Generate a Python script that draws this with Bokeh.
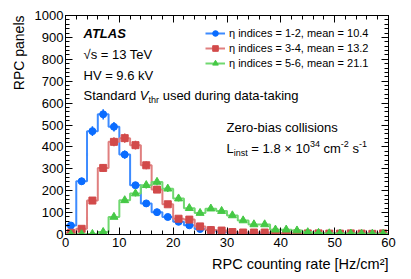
import numpy as np
from bokeh.plotting import figure
from bokeh.models import (Range1d, LinearAxis, SingleIntervalTicker, Label,
                          Legend, LegendItem, CustomJSTickFormatter, Title)
from bokeh.embed import file_html
from bokeh.resources import INLINE

# ---------------- data ----------------
bin_edges = [0, 2, 4, 6, 8, 10, 12, 14, 16, 18, 20, 22, 24, 26, 28, 30,
             32, 34, 36, 38, 40, 42, 44, 46, 48, 50, 52, 54, 56, 58, 60]
bin_centers = [1, 3, 5, 7, 9, 11, 13, 15, 17, 19, 21, 23, 25, 27, 29, 31,
               33, 35, 37, 39, 41, 43, 45, 47, 49, 51, 53, 55, 57, 59]
eta12 = [41, 243, 472, 549, 492, 365, 225, 142, 102, 80, 58, 42, 25, 20, 12,
         8, 6, 5, 5, 4, 4, 4, 4, 4, 3, 5, 3, 3, 4, 3]
eta34 = [8, 26, 155, 304, 423, 440, 408, 316, 205, 138, 72, 68, 37, 20, 18,
         11, 9, 9, 9, 8, 6, 5, 5, 5, 4, 4, 5, 4, 3, 5]
eta56 = [0, 1, 2, 11, 80, 156, 187, 225, 240, 209, 164, 120, 98, 118, 107,
         87, 64, 46, 46, 22, 22, 18, 10, 7, 5, 4, 4, 3, 3, 3]
series_labels = ["η indices = 1-2, mean = 10.4",
                 "η indices = 3-4, mean = 13.2",
                 "η indices = 5-6, mean = 21.1"]
x_title = "RPC counting rate [Hz/cm²]"
y_title = "RPC panels"

FONT = "Liberation Sans"

# ---------------- figure ----------------
p = figure(width=411, height=279, output_backend="svg", toolbar_location=None,
           x_range=Range1d(0, 60), y_range=Range1d(0, 1000),
           min_border_left=65, min_border_right=23, min_border_top=15,
           min_border_bottom=45, x_axis_type=None, y_axis_type=None)
p.grid.visible = False
p.outline_line_color = "black"
p.outline_line_width = 1
p.background_fill_color = "white"
p.border_fill_color = "white"


def style_axis(ax, labels=True):
    ax.major_tick_in = 7
    ax.major_tick_out = 0
    ax.minor_tick_in = 4
    ax.minor_tick_out = 0
    ax.axis_line_color = "black"
    ax.major_tick_line_color = "black"
    ax.minor_tick_line_color = "black"
    ax.major_label_text_font = FONT
    ax.major_label_text_color = "black"
    ax.major_label_text_font_size = "13px"
    if not labels:
        ax.formatter = CustomJSTickFormatter(code="return ''")
        ax.major_label_standoff = 0


xt = SingleIntervalTicker(interval=10, num_minor_ticks=5)
yt = SingleIntervalTicker(interval=100, num_minor_ticks=5)
xb = LinearAxis(ticker=xt); style_axis(xb); xb.major_label_standoff = 3
yl = LinearAxis(ticker=yt); style_axis(yl); yl.major_label_standoff = 2
xa = LinearAxis(ticker=xt); style_axis(xa, False)
yr = LinearAxis(ticker=yt); style_axis(yr, False)
p.add_layout(xb, "below")
p.add_layout(yl, "left")
p.add_layout(xa, "above")
p.add_layout(yr, "right")

# axis titles as side titles (right/top aligned like the ROOT style)
p.add_layout(Title(text=x_title, align="right", text_font=FONT,
                   text_font_size="14.5px", text_font_style="normal",
                   text_color="black", standoff=9), "below")
p.add_layout(Title(text=y_title, align="right", text_font=FONT,
                   text_font_size="14px", text_font_style="normal",
                   text_color="black", standoff=9), "left")

# ---------------- histograms ----------------
specs = [
    (eta12, "#0a6cff", "#3d8bff", "circle", 7),
    (eta34, "#d24a4a", "#e07f7f", "square", 7),
    (eta56, "#45c845", "#70d870", "triangle", 8),
]
items = []
for (counts, mcol, lcol, marker, msize), lab in zip(specs, series_labels):
    step_y = list(counts) + [counts[-1]]
    sr = p.step(x=bin_edges, y=step_y, mode="after", line_color=lcol,
                line_width=2)
    err = np.sqrt(np.array(counts, dtype=float))
    p.segment(x0=bin_centers, x1=bin_centers,
              y0=np.array(counts) - err, y1=np.array(counts) + err,
              line_color=mcol, line_width=1.5)
    mr = p.scatter(x=bin_centers, y=counts, marker=marker, size=msize,
                   fill_color=mcol, line_color=mcol)
    items.append(LegendItem(label=lab, renderers=[sr, mr]))

legend = Legend(items=items, location=(140, 164), glyph_width=20,
                glyph_height=14, spacing=1, padding=0, margin=0,
                label_standoff=4, label_text_font_size="11px",
                label_text_font=FONT, label_text_color="black",
                border_line_alpha=0, background_fill_alpha=0)
p.add_layout(legend)

# ---------------- text ----------------
FX0, FX1, FY0, FY1 = 65.0, 388.0, 15.0, 234.0   # frame in page pixels


def X(px):
    return (px - FX0) / (FX1 - FX0) * 60.0


def Y(py):
    return (FY1 - py) / (FY1 - FY0) * 1000.0


W = {' ': .278, 'a': .556, 'b': .556, 'c': .5, 'd': .556, 'e': .556,
     'g': .556, 'h': .556, 'i': .222, 'k': .5, 'l': .222, 'm': .833,
     'n': .556, 'o': .556, 'r': .333, 's': .5, 't': .278, 'u': .556,
     'S': .667, 'V': .667, 'L': .556, 'Z': .611, '-': .333, '=': .584,
     '.': .278, '×': .584}


def tw(s, size):
    return sum(W.get(c, .556) for c in s) * size


def run(parts, px, py):
    x = px
    for text, size, dy, style in parts:
        lead = len(text) - len(text.lstrip(' '))
        p.add_layout(Label(x=X(x + lead * .278 * size), y=Y(py + dy),
                           text=text.strip(), text_font=FONT,
                           text_font_size=f"{size}px", text_font_style=style,
                           text_baseline="middle", text_color="black"))
        x += tw(text, size)


run([("ATLAS", 13, 0, "bold italic")], 83, 33)
run([("√s = 13 TeV", 13, 0, "normal")], 83, 54)
run([("HV = 9.6 kV", 13, 0, "normal")], 83, 75)
run([("Standard ", 13, 0, "normal"), ("V", 13, 0, "italic"),
     ("thr", 9, 4, "normal"), (" used during data-taking", 13, 0, "normal")],
    83, 95)
run([("Zero-bias collisions", 13, 0, "normal")], 226, 127)
run([("L", 13, 0, "normal"), ("inst", 9, 4, "normal"),
     (" = 1.8 × 10", 13, 0, "normal"), ("34", 9, -5, "normal"),
     (" cm", 13, 0, "normal"), ("-2", 9, -5, "normal"),
     (" s", 13, 0, "normal"), ("-1", 9, -5, "normal")], 226, 148)

open("out.html", "w").write(file_html(p, INLINE))
